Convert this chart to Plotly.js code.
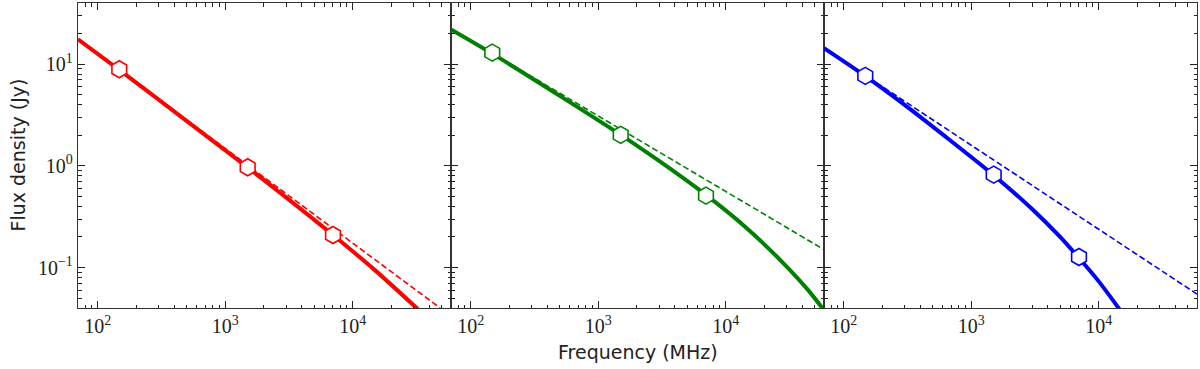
<!DOCTYPE html>
<html>
<head>
<meta charset="utf-8">
<script src="https://cdn.plot.ly/plotly-3.0.1.min.js"></script>
<style>
  html, body { margin: 0; padding: 0; background: #fff; }
  #plot { width: 1200px; height: 369px; }
</style>
</head>
<body>
<div id="plot"></div>
<script>
"use strict";

// marker frequencies (MHz) and fluxes (Jy)
const markerFreq = [147.5, 1500, 7000];
const redMarkerFlux = [8.93, 0.97, 0.209];
const greenMarkerFlux = [13.0, 2.02, 0.51];
const blueMarkerFlux = [7.68, 0.82, 0.127];

// curved fits (solid)
const redFitFreq = [70, 147.5, 500, 1500, 3000, 7000, 15000, 35000];
const redFitFlux = [17.6, 8.8, 2.75, 0.964, 0.49, 0.209, 0.0938, 0.0357];
const greenFitFreq = [70, 147.5, 500, 1500, 3000, 7000, 15000, 28000, 43800, 60000];
const greenFitFlux = [22.0, 12.7, 4.88, 2.02, 1.12, 0.518, 0.237, 0.112, 0.061, 0.037];
const blueFitFreq = [70, 147.5, 300, 600, 1500, 3000, 5000, 7000, 10000, 15000];
const blueFitFlux = [14.4, 7.65, 3.99, 2.03, 0.81, 0.376, 0.199, 0.124, 0.0731, 0.0369];

// power laws (dashed)
const redPlFreq = [70, 48500];
const redPlFlux = [17.6, 0.04];
const greenPlFreq = [70, 59000];
const greenPlFlux = [22.3, 0.15];
const bluePlFreq = [70, 59000];
const bluePlFlux = [14.4, 0.0548];

// axis ticks
const xTickVals = [100, 1000, 10000];
const xTickText = ['10<sup>2</sup>', '10<sup>3</sup>', '10<sup>4</sup>'];
const yTickVals = [0.1, 1, 10];
const yTickText = ['10<sup>\u22121</sup>', '10<sup>0</sup>', '10<sup>1</sup>'];

const minorVals = (lo, hi) => {
    let out = [];
    for (let e = lo; e <= hi; e++)
        for (let m = 2; m <= 9; m++) out.push(m * Math.pow(10, e));
    return out;
};

const panels = [
    { color: '#ff0000', fitX: redFitFreq, fitY: redFitFlux, plX: redPlFreq, plY: redPlFlux, mY: redMarkerFlux },
    { color: '#008000', fitX: greenFitFreq, fitY: greenFitFlux, plX: greenPlFreq, plY: greenPlFlux, mY: greenMarkerFlux },
    { color: '#0000ff', fitX: blueFitFreq, fitY: blueFitFlux, plX: bluePlFreq, plY: bluePlFlux, mY: blueMarkerFlux },
];

let data = [];
panels.forEach((p, i) => {
    const xa = i == 0 ? 'x' : `x${i + 1}`;
    const ya = i == 0 ? 'y' : `y${i + 1}`;
    data.push({
        x: p.plX, y: p.plY, xaxis: xa, yaxis: ya, mode: 'lines',
        line: { color: p.color, width: 1.6, dash: '6px,3px' },
        showlegend: false,
    });
    data.push({
        x: p.fitX, y: p.fitY, xaxis: xa, yaxis: ya, mode: 'lines',
        line: { color: p.color, width: 4, shape: 'spline', smoothing: 0.8 },
        showlegend: false,
    });
    data.push({
        x: markerFreq, y: p.mY, xaxis: xa, yaxis: ya, mode: 'markers',
        marker: { symbol: 'hexagon', size: 17, color: '#ffffff', line: { color: p.color, width: 1.6 } },
        showlegend: false,
    });
});

const tickFont = { family: 'Liberation Serif, DejaVu Serif, serif', size: 20, color: '#222' };
const titleFont = { family: 'DejaVu Sans, sans-serif', size: 19, color: '#222' };

function xAxis(i) {
    return {
        type: 'log',
        domain: [i / 3, (i + 1) / 3],
        range: [Math.log10(70), Math.log10(59000)],
        anchor: i == 0 ? 'y' : `y${i + 1}`,
        tickmode: 'array', tickvals: xTickVals, ticktext: xTickText,
        tickfont: tickFont,
        ticks: 'inside', ticklen: 7, tickwidth: 1.2, tickcolor: '#222',
        minor: { tickmode: 'array', tickvals: minorVals(1, 4), ticks: 'inside', ticklen: 3.5, tickwidth: 1, tickcolor: '#222', showgrid: false },
        showline: true, linecolor: '#333', linewidth: 1.2, mirror: 'ticks',
        showgrid: false, zeroline: false,
    };
}

function yAxis(i) {
    return {
        type: 'log',
        range: [Math.log10(0.04), Math.log10(40)],
        anchor: i == 0 ? 'x' : `x${i + 1}`,
        tickmode: 'array', tickvals: yTickVals, ticktext: yTickText,
        showticklabels: i == 0,
        tickfont: tickFont,
        ticks: 'inside', ticklen: 7, tickwidth: 1.2, tickcolor: '#222',
        minor: { tickmode: 'array', tickvals: minorVals(-2, 1), ticks: 'inside', ticklen: 3.5, tickwidth: 1, tickcolor: '#222', showgrid: false },
        showline: true, linecolor: '#333', linewidth: 1.2, mirror: 'ticks',
        showgrid: false, zeroline: false,
    };
}

var layout = {
    width: 1200,
    height: 369,
    margin: { l: 78, r: 3, t: 3, b: 61 },
    paper_bgcolor: '#ffffff',
    plot_bgcolor: '#ffffff',
    xaxis: xAxis(0), xaxis2: xAxis(1), xaxis3: xAxis(2),
    yaxis: yAxis(0), yaxis2: yAxis(1), yaxis3: yAxis(2),
    annotations: [
        {
            text: 'Frequency (MHz)', xref: 'paper', yref: 'paper', x: 0.5, y: -0.144,
            xanchor: 'center', yanchor: 'middle', showarrow: false,
            font: titleFont,
        },
        {
            text: 'Flux density (Jy)', xref: 'paper', yref: 'paper', x: -0.0545, y: 0.5,
            xanchor: 'center', yanchor: 'middle', showarrow: false, textangle: -90,
            font: titleFont,
        },
    ],
};

Plotly.newPlot('plot', data, layout, { staticPlot: true });
</script>
</body>
</html>
